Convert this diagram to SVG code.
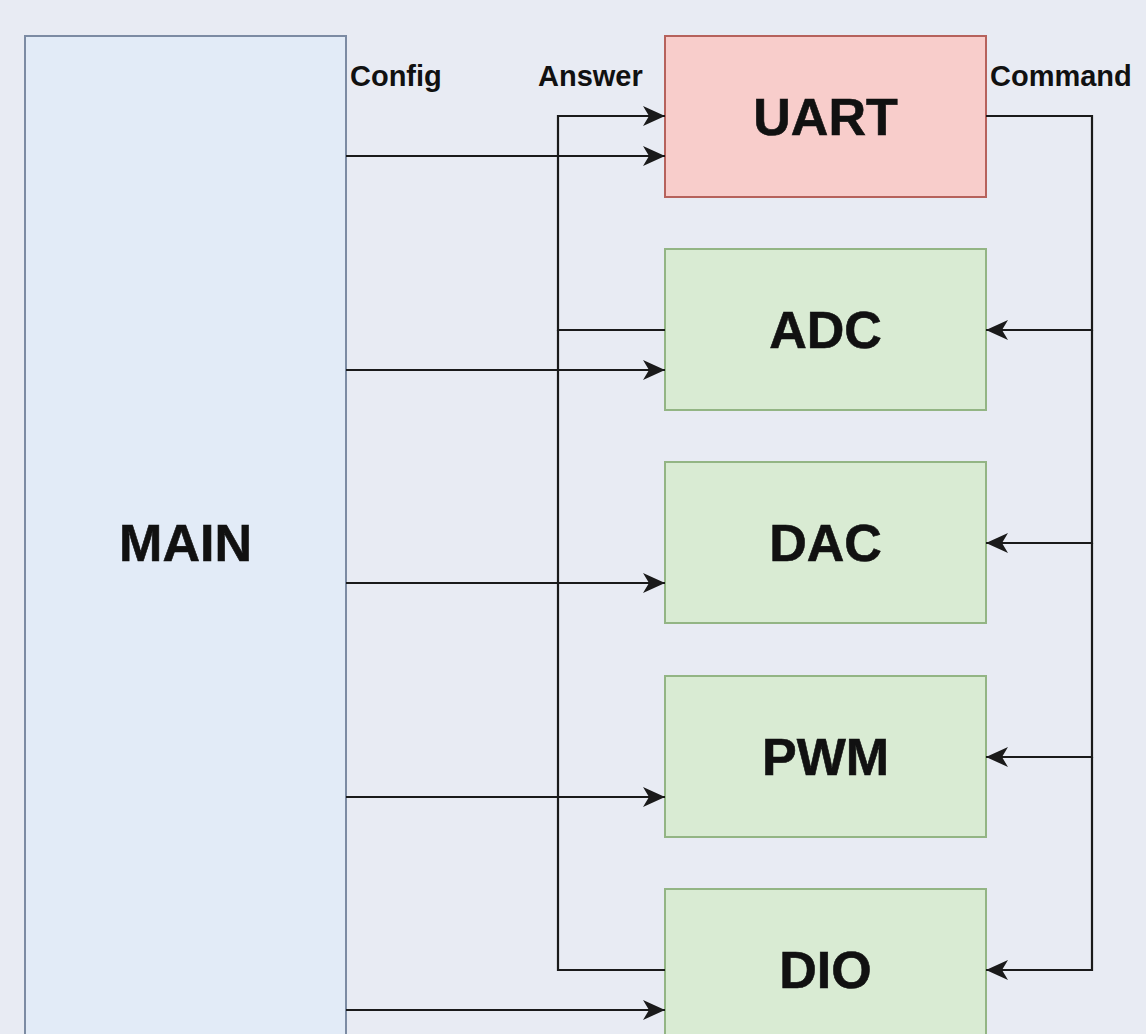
<svg xmlns="http://www.w3.org/2000/svg" width="1146" height="1034" viewBox="0 0 1146 1034">
<style>
.bg{fill:#e8ebf3}
.main{fill:#e2ebf7;stroke:#7c8ba3;stroke-width:2}
.red{fill:#f8cdcb;stroke:#b6625c;stroke-width:2}
.green{fill:#d9ebd3;stroke:#93b584;stroke-width:2}
.big{font-family:"Liberation Sans",Arial,sans-serif;font-weight:bold;font-size:52px;fill:#111;text-anchor:middle;stroke:#111;stroke-width:0.6}
.lbl{font-family:"Liberation Sans",Arial,sans-serif;font-weight:bold;font-size:29px;fill:#111}
.c{fill:none;stroke:#1a1a1a;stroke-width:2.2}
</style>
<defs>
<marker id="ah" viewBox="0 0 22 20" refX="22" refY="10" markerWidth="22" markerHeight="20" markerUnits="userSpaceOnUse" orient="auto">
<path d="M0,0 L22,10 L0,20 L6,10 Z" fill="#1a1a1a"/>
</marker>
</defs>
<rect class="bg" x="0" y="0" width="1146" height="1034"/>
<g id="main"><rect class="main" x="25" y="36" width="321" height="1020"/><text class="big" x="185.5" y="561">MAIN</text></g>
<g id="uart"><rect class="red" x="665" y="36" width="321" height="161"/><text class="big" x="825.5" y="135">UART</text></g>
<g id="adc"><rect class="green" x="665" y="249" width="321" height="161"/><text class="big" x="825.5" y="348">ADC</text></g>
<g id="dac"><rect class="green" x="665" y="462" width="321" height="161"/><text class="big" x="825.5" y="561">DAC</text></g>
<g id="pwm"><rect class="green" x="665" y="676" width="321" height="161"/><text class="big" x="825.5" y="775">PWM</text></g>
<g id="dio"><rect class="green" x="665" y="889" width="321" height="161"/><text class="big" x="825.5" y="988">DIO</text></g>
<g id="labels">
<text class="lbl" x="350" y="86">Config</text>
<text class="lbl" x="538" y="86">Answer</text>
<text class="lbl" x="990" y="86">Command</text>
</g>
<g id="connectors">
<path class="c" d="M346,156 H665" marker-end="url(#ah)"/>
<path class="c" d="M346,370 H665" marker-end="url(#ah)"/>
<path class="c" d="M346,583 H665" marker-end="url(#ah)"/>
<path class="c" d="M346,797 H665" marker-end="url(#ah)"/>
<path class="c" d="M346,1010 H665" marker-end="url(#ah)"/>
<path class="c" d="M665,330 H558 V116 H665" marker-end="url(#ah)"/>
<path class="c" d="M665,970 H558 V330"/>
<path class="c" d="M986,116 H1092 V330 H986" marker-end="url(#ah)"/>
<path class="c" d="M1092,330 V543 H986" marker-end="url(#ah)"/>
<path class="c" d="M1092,543 V757 H986" marker-end="url(#ah)"/>
<path class="c" d="M1092,757 V970 H986" marker-end="url(#ah)"/>
</g>
</svg>
